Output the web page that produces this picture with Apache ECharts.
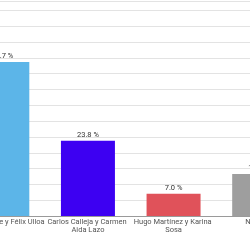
<!DOCTYPE html>
<html><head><meta charset="utf-8">
<style>html,body{margin:0;padding:0;background:#fff;overflow:hidden;width:250px;height:242px;position:relative}#c{position:absolute;left:-46px;top:0;width:400px;height:242px}</style>
<script src="https://cdn.jsdelivr.net/npm/echarts@6/dist/echarts.min.js"></script>
</head><body><div id="c"></div>
<script>
const categories = ["Nayib Bukele y Félix Ulloa", "Carlos Calleja y Carmen Aida Lazo", "Hugo Martínez y Karina Sosa", "Ninguno"];
const values = [48.7, 23.8, 7.0, 13.3];
const colors = ["#5CB5E8", "#3D00F2", "#E0525A", "#9E9E9E"];

const chart = echarts.init(document.getElementById('c'));
chart.setOption({
  animation: false,
  grid: { left: 0, right: 52, top: 1, bottom: 26, containLabel: false },
  xAxis: {
    type: 'category', data: categories,
    axisTick: { show: false },
    axisLine: { lineStyle: { color: '#9a9a9a', width: 1 } },
    axisLabel: {
      interval: 0, margin: 2, color: '#555', fontFamily: 'Roboto', fontSize: 7.5, lineHeight: 8,
      width: 92, overflow: 'break'
    }
  },
  yAxis: {
    type: 'value', min: 0, max: 68, interval: 5,
    axisLabel: { show: false }, axisLine: { show: false }, axisTick: { show: false },
    splitLine: { lineStyle: { color: '#e3e3e3', width: 1 } }
  },
  series: [{
    type: 'bar', barWidth: 54,
    data: values.map((v, i) => ({ value: v, itemStyle: { color: colors[i] } })),
    label: {
      show: true, position: 'top', distance: 2, color: '#333', fontFamily: 'Roboto', fontSize: 7.5,
      formatter: p => p.value.toFixed(1) + ' %'
    }
  }]
});
</script></body></html>
